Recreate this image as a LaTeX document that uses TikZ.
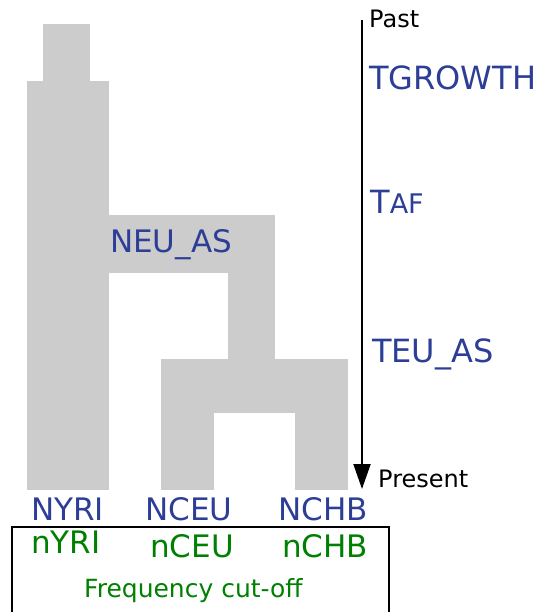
\documentclass[tikz,border=0pt]{standalone}
\usepackage{fontspec}
\setmainfont{DejaVu Sans}
\usepackage{tikz}
\usetikzlibrary{arrows.meta,positioning}
\usepackage{xcolor}
\definecolor{popgray}{RGB}{204,204,204}
\definecolor{parblue}{RGB}{44,62,150}
\definecolor{cutgreen}{RGB}{0,128,0}
\tikzstyle{branch} = [fill=popgray, draw=none]
\tikzstyle{label} = [inner sep=0pt, anchor=base west]
\tikzstyle{param} = [label, text=parblue, font=\fontsize{32}{32}\selectfont]
\tikzstyle{popsize} = [label, text=parblue, font=\fontsize{31}{31}\selectfont]
\tikzstyle{sample} = [label, text=cutgreen, font=\fontsize{31}{31}\selectfont]
\tikzstyle{timeaxis} = [line width=2pt, -{Triangle[length=25pt,width=17pt]}]

\begin{document}
\begin{tikzpicture}[x=1pt, y=-1pt]
\useasboundingbox (0,0) rectangle (536,612);
\clip (0,0) rectangle (536,612);

% Population tree
\fill[branch] (43,24) rectangle (90,82);
\fill[branch] (27,81) rectangle (109,490);
\fill[branch] (108,215) rectangle (275,273);
\fill[branch] (228,272) rectangle (275,360);
\fill[branch] (161,359) rectangle (348,413);
\fill[branch] (161,412) rectangle (214,490);
\fill[branch] (295,412) rectangle (348,490);
\node (neuas) [popsize] at (110,252) {NEU\_AS};

% Time axis
\coordinate (past) at (362,20);
\coordinate (present) at (362,489);
\draw[timeaxis] (past) -- (present);
\node (pastlbl) [label, font=\fontsize{24}{24}\selectfont] at (369,28) {Past};
\node (presentlbl) [label, font=\fontsize{24}{24}\selectfont] at (378,487) {Present};

% Event times
\node (tgrowth) [param] at (369,90) {TGROWTH};
\node (taf) [param] at (370,213) {T{\fontsize{27}{27}\selectfont AF}};
\node (teuas) [param] at (372,362) {TEU\_AS};

% Present-day sizes
\node (nyri) [popsize] at (31,520) {NYRI};
\node (nceu) [popsize] at (145,520) {NCEU};
\node (nchb) [popsize] at (278,520) {NCHB};

% Sample sizes and cut-off
\draw[line width=1.2pt] (12,527) rectangle (389,640);
\node (syri) [sample] at (31,553) {nYRI};
\node (sceu) [sample] at (150,557) {nCEU};
\node (schb) [sample] at (282,557) {nCHB};
\node (cutoff) [label, text=cutgreen, font=\fontsize{25}{25}\selectfont] at (84,597) {Frequency cut-off};
\end{tikzpicture}
\end{document}
